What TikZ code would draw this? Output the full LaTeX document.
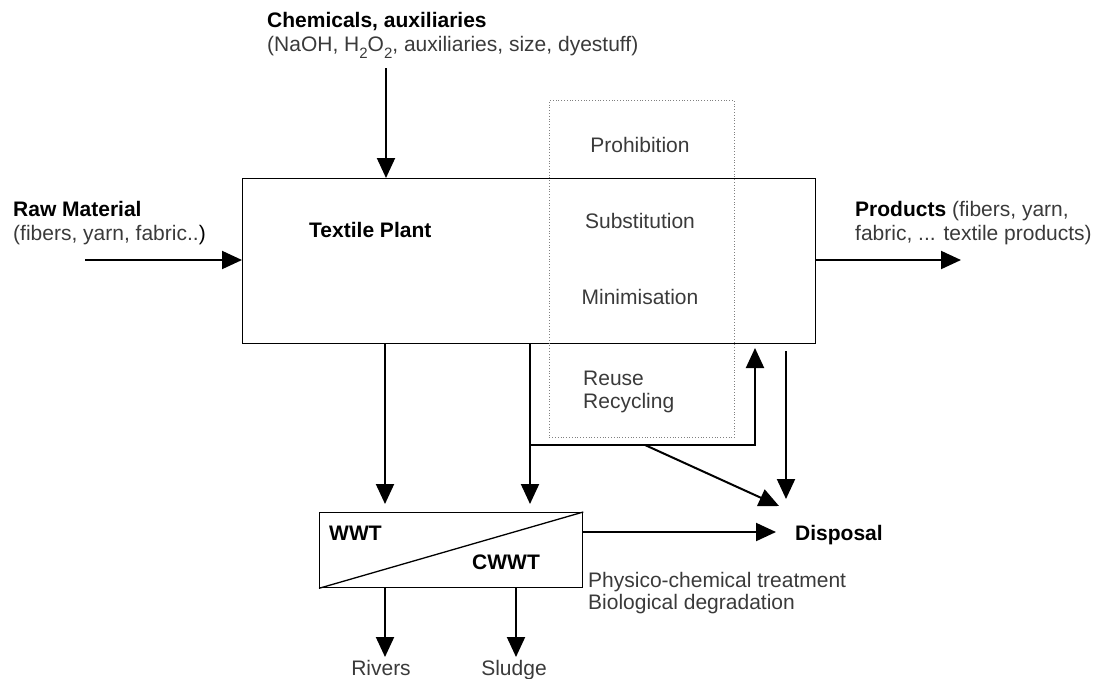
\documentclass[tikz,border=0pt]{standalone}
\usepackage{fontspec}
\setmainfont{Liberation Sans}
\usetikzlibrary{arrows.meta}
\definecolor{txt}{HTML}{3A3A3A}
\newcommand{\lowsub}[1]{\raisebox{-7pt}{\fontsize{15}{15}\selectfont #1}}
\tikzset{
  arr/.style={line width=2pt,-{Triangle[length=20pt,width=18pt]}},
  lbl/.style={inner sep=0pt,text=txt,font=\fontsize{21}{23}\selectfont},
  blbl/.style={inner sep=0pt,text=black,font=\fontsize{21}{23}\selectfont\bfseries},
}
\begin{document}
\begin{tikzpicture}[x=1pt,y=-1pt]
\useasboundingbox (0,0) rectangle (1108,678);
% main box
\node[draw,line width=1.3pt,minimum width=573pt,minimum height=165pt,anchor=north west,inner sep=0pt] (plant) at (242,178) {};
% dotted box
\node[draw=gray,dotted,line width=0.8pt,minimum width=185pt,minimum height=337pt,anchor=north west,inner sep=0pt] (rr) at (549,100) {};
% WWT box
\node[draw,line width=1.3pt,minimum width=263pt,minimum height=75pt,anchor=north west,inner sep=0pt] (wwt) at (319,512) {};
\draw[line width=1.3pt] (wwt.south west) -- (wwt.north east);

% texts
\node[blbl,anchor=base west] (chem1) at (267,27) {Chemicals, auxiliaries};
\node[lbl,anchor=base west] (chem2) at (267,51) {(NaOH, H\lowsub{2}O\lowsub{2}, auxiliaries, size, dyestuff)};
\node[blbl,anchor=base west] (raw1) at (13,216) {Raw Material};
\node[lbl,anchor=base west] (raw2) at (13,240) {(fibers, yarn, fabric..\textcolor{black}{)}};
\node[blbl,anchor=base west] (tp) at (309,237) {Textile Plant};
\node[lbl,anchor=base] (pro) at (640,152) {Prohibition};
\node[lbl,anchor=base] (sub) at (640,228) {Substitution};
\node[lbl,anchor=base] (min) at (640,304) {Minimisation};
\node[lbl,anchor=base west] (reu) at (583,385) {Reuse};
\node[lbl,anchor=base west] (rec) at (583,408) {Recycling};
\node[lbl,anchor=base west] (prod1) at (855,216) {\textcolor{black}{\bfseries Products} (fibers, yarn,};
\node[lbl,anchor=base west] (prod2) at (855,240) {fabric, ... textile products)};
\node[blbl,anchor=base west] (wwtl) at (329,540) {WWT};
\node[blbl,anchor=base west] (cwwtl) at (472,569) {CWWT};
\node[blbl,anchor=base west] (disp) at (795,540) {Disposal};
\node[lbl,anchor=base west] (phys) at (588,587) {Physico-chemical treatment};
\node[lbl,anchor=base west] (bio) at (588,609) {Biological degradation};
\node[lbl,anchor=base] (riv) at (381,675) {Rivers};
\node[lbl,anchor=base] (slu) at (514,675) {Sludge};

% coordinates
\coordinate (c0) at (386,68);
\coordinate (r0) at (85,260);
\coordinate (p1) at (961,260);
\coordinate (a0) at (385,343);
\coordinate (a1) at (385,504);
\coordinate (b0) at (530,343);
\coordinate (b1) at (530,504);
\coordinate (h0) at (530,445);
\coordinate (h1) at (755,445);
\coordinate (h2) at (755,348);
\coordinate (d0) at (645,445);
\coordinate (d1) at (779,506);
\coordinate (v0) at (786,351);
\coordinate (v1) at (786,499);
\coordinate (w1) at (776,532);
\coordinate (rv0) at (385,587);
\coordinate (rv1) at (385,657);
\coordinate (sl0) at (516,587);
\coordinate (sl1) at (516,657);

% connectors
\draw[arr] (c0) -- (c0 |- plant.north);
\draw[arr] (r0) -- (r0 -| plant.west);
\draw[arr] (plant.east |- p1) -- (p1);
\draw[arr] (a0) -- (a1);
\draw[arr] (b0) -- (b1);
\draw[arr] (h0) -- (h1) -- (h2);
\draw[arr] (d0) -- (d1);
\draw[arr] (v0) -- (v1);
\draw[arr] (wwt.east |- w1) -- (w1);
\draw[arr] (rv0) -- (rv1);
\draw[arr] (sl0) -- (sl1);
\end{tikzpicture}
\end{document}
